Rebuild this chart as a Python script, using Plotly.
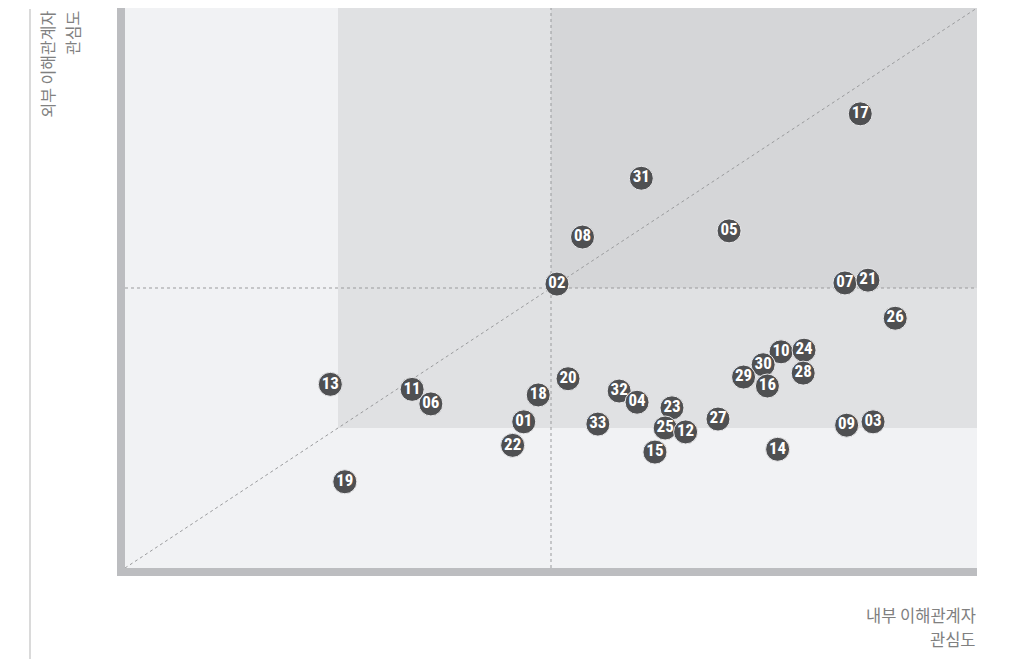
import plotly.graph_objects as go

labels = ["17", "31", "08", "05", "02", "07", "21", "26", "10", "24", "30", "29", "16", "28",
          "13", "11", "06", "20", "18", "01", "22", "19", "32", "04", "33", "23", "25", "12",
          "15", "27", "14", "09", "03"]
internal = [86.3, 60.6, 53.7, 70.9, 50.7, 84.5, 87.2, 90.4, 77.0, 79.7, 74.9, 72.6, 75.4, 79.6,
            24.1, 33.7, 35.9, 52.0, 48.5, 46.8, 45.5, 25.8, 58.0, 60.1, 55.5, 64.2, 63.4, 65.8,
            62.2, 69.6, 76.6, 84.7, 87.8]
external = [81.1, 69.6, 59.1, 60.2, 50.7, 50.9, 51.4, 44.6, 38.6, 38.9, 36.3, 34.1, 32.5, 34.8,
            32.8, 31.9, 29.3, 33.8, 30.9, 26.1, 21.9, 15.4, 31.6, 29.6, 25.7, 28.6, 25.0, 24.3,
            20.7, 26.6, 21.2, 25.5, 26.1]

x_label = ["내부 이해관계자", "관심도"]
y_label = ["외부 이해관계자", "관심도"]

W, H = 1015, 659
OFF = 8  # page body margin
L, R, T, B = 125 - OFF, 38 + OFF, 8 - OFF, 91 + OFF
PW, PH = W - L - R, H - T - B


def px_x(p):
    return (p - OFF - L) / PW


def px_y(p):
    return (H - B - (p - OFF)) / PH


fig = go.Figure()

fig.add_trace(go.Scatter(
    x=internal, y=external, text=labels, mode="markers+text",
    textposition="middle center",
    marker=dict(size=24, color="#4f5052", line=dict(color="#e8e8ea", width=1)),
    textfont=dict(family="Roboto Condensed, Roboto", size=17, color="white", weight="bold"),
    cliponaxis=False, hoverinfo="skip", showlegend=False,
))

shapes = [
    dict(type="rect", xref="x", yref="y", x0=0, x1=100, y0=0, y1=100,
         fillcolor="#f1f2f4", line=dict(width=0), layer="below"),
    dict(type="rect", xref="x", yref="y", x0=25, x1=100, y0=25, y1=100,
         fillcolor="#e0e1e3", line=dict(width=0), layer="below"),
    dict(type="rect", xref="x", yref="y", x0=50, x1=100, y0=50, y1=100,
         fillcolor="#d5d6d8", line=dict(width=0), layer="below"),
    dict(type="line", xref="x", yref="y", x0=50, x1=50, y0=0, y1=100,
         line=dict(color="#9a9b9d", width=1, dash="dot"), layer="below"),
    dict(type="line", xref="x", yref="y", x0=0, x1=100, y0=50, y1=50,
         line=dict(color="#9a9b9d", width=1, dash="dot"), layer="below"),
    dict(type="line", xref="x", yref="y", x0=0, x1=100, y0=0, y1=100,
         line=dict(color="#9a9b9d", width=1, dash="dot"), layer="below"),
    # axis bars
    dict(type="rect", xref="paper", yref="paper", x0=-8 / PW, x1=0, y0=-8 / PH, y1=1,
         fillcolor="#bcbdc0", line=dict(width=0)),
    dict(type="rect", xref="paper", yref="paper", x0=-8 / PW, x1=1, y0=-8 / PH, y1=0,
         fillcolor="#bcbdc0", line=dict(width=0)),
    # thin left rule
    dict(type="line", xref="paper", yref="paper", x0=px_x(30), x1=px_x(30),
         y0=px_y(H + 10), y1=px_y(9), line=dict(color="#b5b5b5", width=1)),
]

x_font = dict(family="Noto Sans CJK KR", size=16.5, color="#808080")
y_font = dict(family="Noto Sans CJK KR", size=16, color="#808080")
annotations = [
    dict(text=x_label[0], xref="paper", yref="paper", x=px_x(978), y=px_y(615),
         xanchor="right", yanchor="middle", showarrow=False, font=x_font),
    dict(text=x_label[1], xref="paper", yref="paper", x=px_x(978), y=px_y(639),
         xanchor="right", yanchor="middle", showarrow=False, font=x_font),
    dict(text=y_label[0], xref="paper", yref="paper", x=px_x(46), y=px_y(9),
         xanchor="center", yanchor="top", textangle=-90, showarrow=False, font=y_font),
    dict(text=y_label[1], xref="paper", yref="paper", x=px_x(72), y=px_y(9),
         xanchor="center", yanchor="top", textangle=-90, showarrow=False, font=y_font),
]

fig.update_layout(
    width=W, height=H,
    margin=dict(l=L, r=R, t=T, b=B),
    paper_bgcolor="white", plot_bgcolor="#f1f2f4",
    xaxis=dict(range=[0, 100], visible=False, fixedrange=True),
    yaxis=dict(range=[0, 100], visible=False, fixedrange=True),
    shapes=shapes, annotations=annotations,
)

fig.write_html("out.html")
